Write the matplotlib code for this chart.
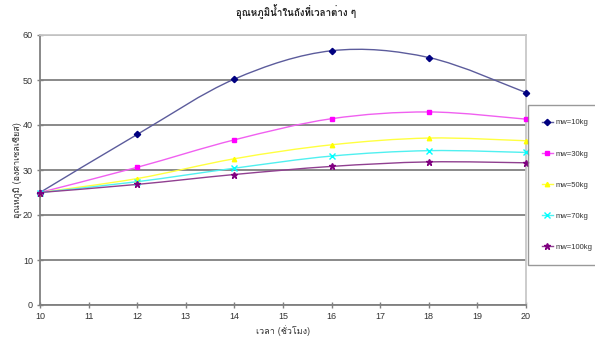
#!/usr/bin/env python3
"""
Water temperature in the tank over time, for several water masses
(smoothed lines, Excel style)
"""

import numpy as np
import matplotlib

matplotlib.use("Agg")
import matplotlib.pyplot as plt
from matplotlib import font_manager
from matplotlib.ft2font import FT2Font
from matplotlib.path import Path
from matplotlib.patches import PathPatch

hours = [10, 12, 14, 16, 18, 20]
labels = ["mw=10kg", "mw=30kg", "mw=50kg", "mw=70kg", "mw=100kg"]
temp_10 = [25.0, 37.9, 50.2, 56.5, 55.0, 47.2]
temp_30 = [25.0, 30.6, 36.7, 41.4, 42.9, 41.3]
temp_50 = [25.0, 28.1, 32.5, 35.6, 37.1, 36.5]
temp_70 = [25.0, 27.4, 30.4, 33.1, 34.3, 33.9]
temp_100 = [25.0, 26.8, 29.0, 30.8, 31.8, 31.6]

title = "อุณหภูมิน้ำในถังที่เวลาต่าง ๆ"
xlabel = "เวลา (ชั่วโมง)"
ylabel = "อุณหภูมิ (องศาเซลเซียส)"

colors = ["#000080", "#ff00ff", "#ffff00", "#00ffff", "#800080"]
linecolors = ["#5c5c9c", "#f060f0", "#ffff40", "#50f0f0", "#904090"]
markers = ["D", "s", "^", "x", "*"]


def thai_family():
    for f in font_manager.fontManager.ttflist:
        try:
            if ord("อ") in FT2Font(f.fname).get_charmap():
                return f.name
        except Exception:
            pass
    return None


def smooth_path(x, y):
    # cubic bezier through the points, catmull-rom style control points
    pts = np.column_stack([x, y]).astype(float)
    verts = [pts[0]]
    codes = [Path.MOVETO]
    n = len(pts)
    for i in range(n - 1):
        p0 = pts[max(i - 1, 0)]
        p1 = pts[i]
        p2 = pts[i + 1]
        p3 = pts[min(i + 2, n - 1)]
        c1 = p1 + (p2 - p0) / 6.0
        c2 = p2 - (p3 - p1) / 6.0
        verts += [c1, c2, p2]
        codes += [Path.CURVE4] * 3
    return Path(verts, codes)


def main():
    thai = thai_family()
    fam = ["Liberation Sans", "DejaVu Sans"]
    tfam = ([thai] if thai else []) + fam

    plt.rcParams["font.family"] = fam

    fg = plt.figure(figsize=(5.95, 3.4), dpi=100)
    ax = fg.add_axes([40 / 595, 35 / 340, 486 / 595, 270 / 340])

    series = [temp_10, temp_30, temp_50, temp_70, temp_100]
    handles = []
    for vals, c, lc, m, lab in zip(series, colors, linecolors, markers, labels):
        ax.add_patch(PathPatch(smooth_path(hours, vals), fill=False,
                               edgecolor=lc, lw=1.0, zorder=3))
        ms = 4.5 if m in ("x", "*") else 3.2
        ax.plot(hours, vals, ls="none", marker=m, color=c, ms=ms,
                mew=1.0, zorder=4, clip_on=False)
        h, = ax.plot([], [], color=lc, lw=1.0, marker=m, ms=ms,
                     mfc=c, mec=c, label=lab)
        handles.append(h)

    ax.set_xlim(10, 20)
    ax.set_ylim(0, 60)
    ax.set_xticks(range(10, 21))
    ax.set_yticks(range(0, 61, 10))
    ax.yaxis.grid(True, color="#808080", lw=1.3)
    ax.set_axisbelow(True)
    for s in ("top", "right"):
        ax.spines[s].set_color("#c8c8c8")
        ax.spines[s].set_linewidth(1.3)
    for s in ("left", "bottom"):
        ax.spines[s].set_color("#808080")
        ax.spines[s].set_linewidth(1.3)
    ax.tick_params(direction="inout", length=4, width=1, color="#808080",
                   labelsize=6.5, labelcolor="#333333", pad=3)

    fg.text(0.497, 0.962, title, ha="center", va="center", fontsize=7,
            fontweight="bold", family=tfam, color="#222222")
    ax.set_xlabel(xlabel, fontsize=6.5, family=tfam, color="#333333",
                  labelpad=3)
    ax.set_ylabel(ylabel, fontsize=6.5, family=tfam, color="#333333",
                  labelpad=1)

    leg = fg.legend(handles=handles, loc="upper left",
                    bbox_to_anchor=(528 / 595, 1 - 105 / 340),
                    fontsize=5.5, frameon=True, fancybox=False,
                    labelspacing=3.1, handlelength=1.4, handletextpad=0.3,
                    borderpad=1.85, borderaxespad=0)
    leg.get_frame().set_edgecolor("#808080")
    leg.get_frame().set_linewidth(1.0)
    for t in leg.get_texts():
        t.set_color("#333333")

    fg.savefig("out.png", dpi=100)


if __name__ == "__main__":
    main()
